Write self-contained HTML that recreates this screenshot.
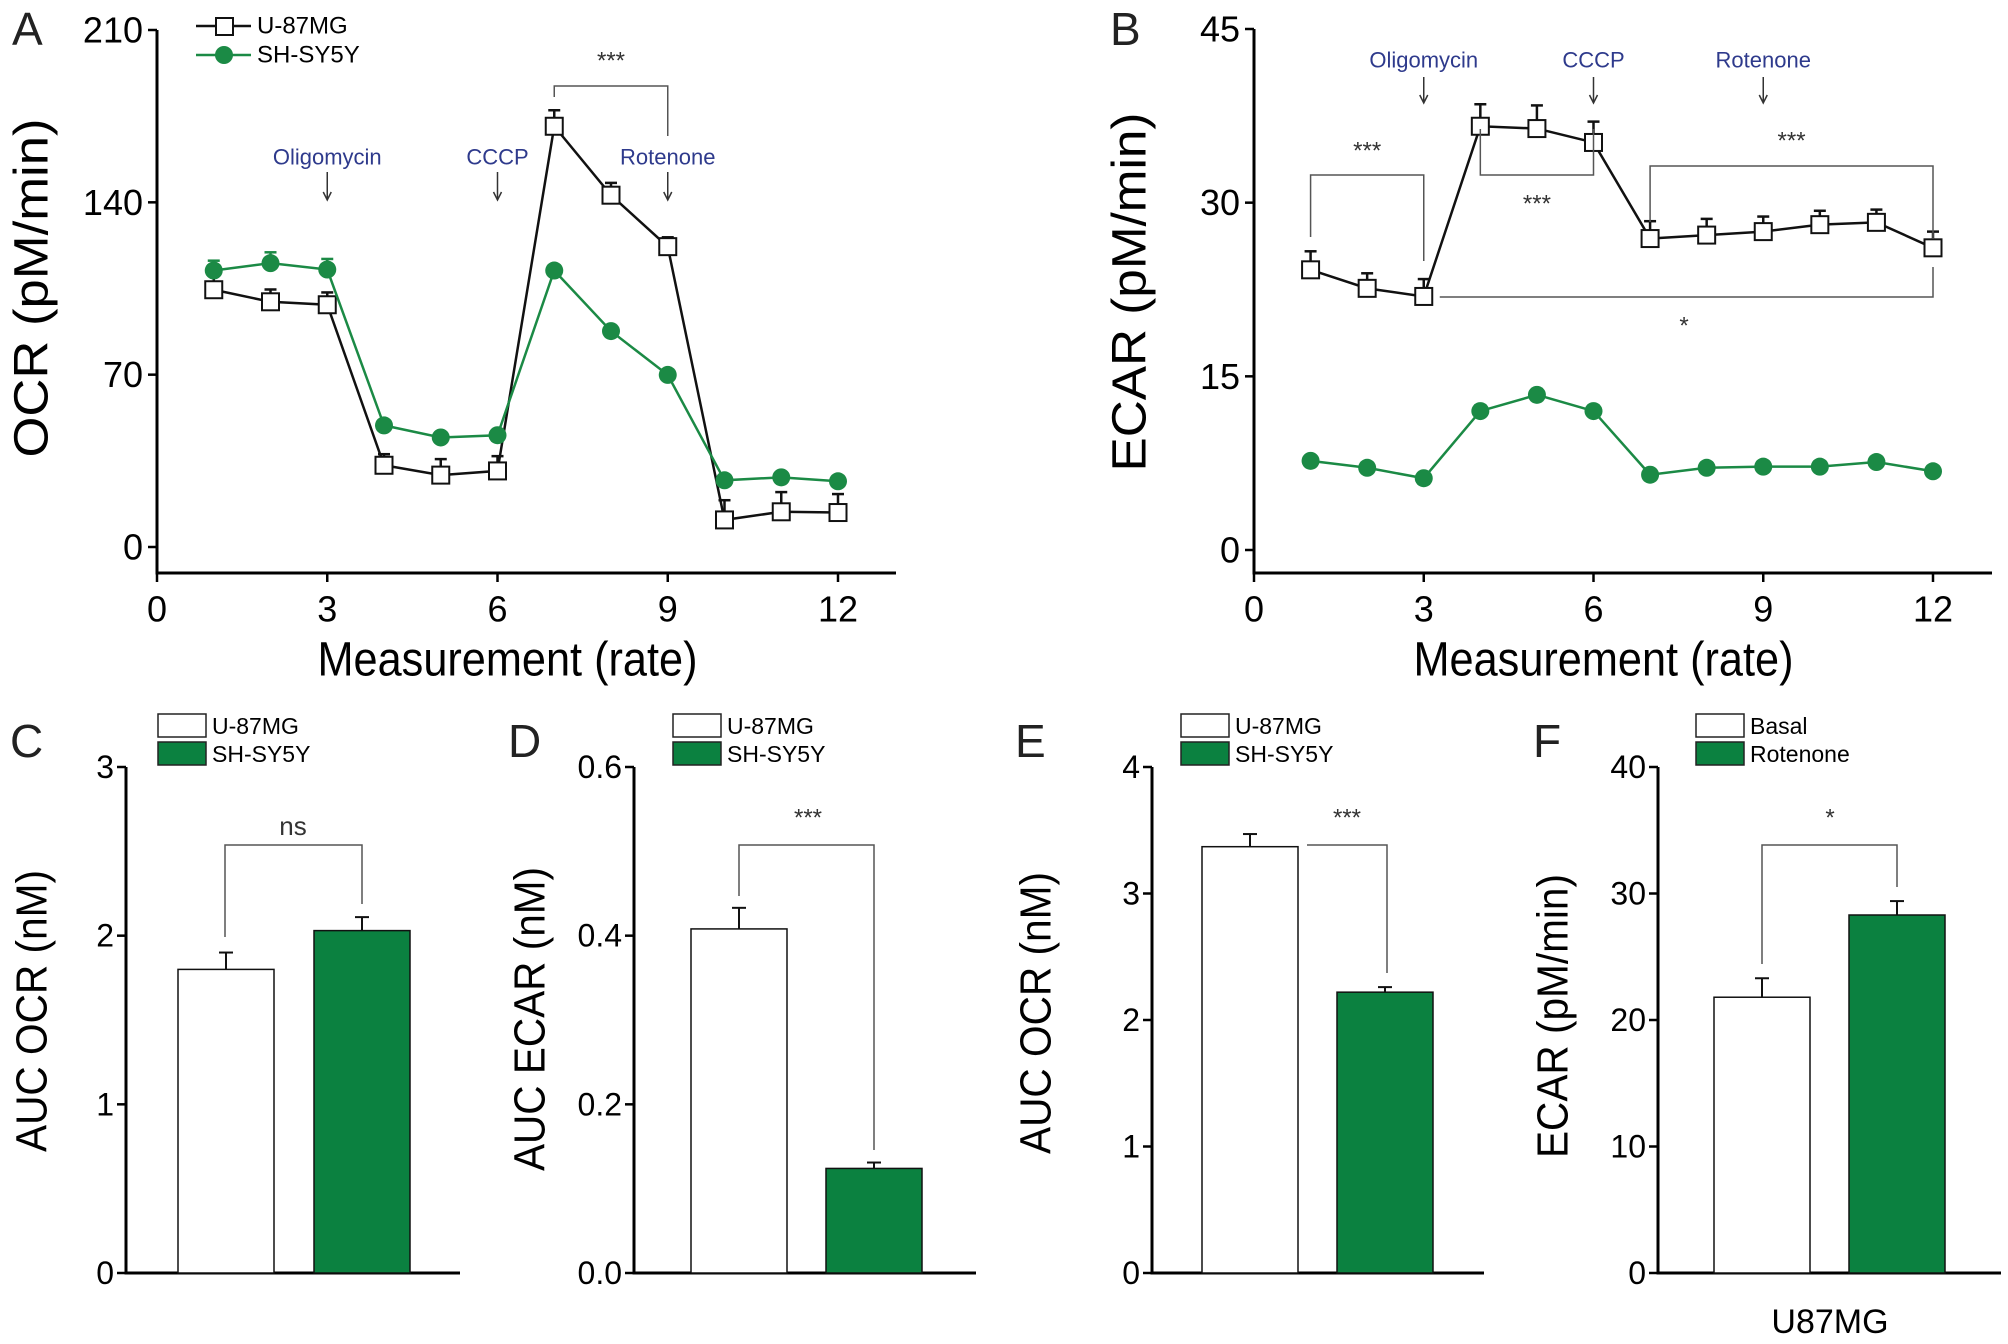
<!DOCTYPE html>
<html><head><meta charset="utf-8"><style>
html,body{margin:0;padding:0;background:#fff}
svg{display:block;font-family:"Liberation Sans",Arial,sans-serif}
</style></head><body>
<svg id="fig" width="2008" height="1344" viewBox="0 0 2008 1344"></svg>
<script>
// ---- Panel A data (OCR) ----
const measurements = [1,2,3,4,5,6,7,8,9,10,11,12];
const ocrU87 = [104.5,99.6,98.4,33.2,29.2,30.9,170.9,142.9,122,11,14.3,14];
const ocrU87Err = [7,5,5,4.5,6.5,6,6.5,5,3.8,8,8,7.5];
const ocrSH = [112.3,115.3,112.7,49.4,44.5,45.4,112.3,87.7,69.9,27.1,28.3,26.7];
const ocrSHErr = [4,4.4,4.3,1,1,1,1,1,1,1,1,1];
// ---- Panel B data (ECAR) ----
const ecarU87 = [24.2,22.6,21.9,36.6,36.4,35.2,26.9,27.2,27.5,28.1,28.3,26.1];
const ecarU87Err = [1.6,1.3,1.5,1.9,2,1.8,1.5,1.4,1.3,1.2,1.1,1.4];
const ecarSH = [7.7,7.1,6.2,12,13.4,12,6.5,7.1,7.2,7.2,7.6,6.8];
const ecarSHErr = [0.4,0.3,0.3,0.5,0.5,0.5,0.3,0.3,0.3,0.3,0.3,0.3];
const xTicks = [0,3,6,9,12];
const ocrTicks = [0,70,140,210];
const ecarTicks = [0,15,30,45];
// ---- Bar panels ----
const barC = [1.8,2.03]; const barCErr = [0.1,0.08];
const barD = [0.408,0.124]; const barDErr = [0.025,0.007];
const barE = [3.37,2.22]; const barEErr = [0.1,0.04];
const barF = [21.8,28.3]; const barFErr = [1.5,1.1];
const ticksC = ["0","1","2","3"];
const ticksD = ["0.0","0.2","0.4","0.6"];
const ticksE = ["0","1","2","3","4"];
const ticksF = ["0","10","20","30","40"];

const NS="http://www.w3.org/2000/svg";
const svg=document.getElementById('fig');
function el(tag,attrs,parent,txt){const e=document.createElementNS(NS,tag);for(const k in attrs)e.setAttribute(k,attrs[k]);if(txt!==undefined)e.textContent=txt;(parent||svg).appendChild(e);return e;}
const GREEN="#0b8140", LGREEN="#1b8a45", BLUE="#2e3a8c";

function letter(t,x,y){const e=el('text',{x:x,y:y,'font-size':46,fill:'#222'},svg,t);

}

function ytitle(t,cx,cy,len,fs,name){const e=el('text',{x:0,y:0,'font-size':fs,'text-anchor':'middle','dominant-baseline':'central',textLength:len,lengthAdjust:'spacingAndGlyphs',transform:`translate(${cx},${cy}) rotate(-90)`},svg,t);

}

function lineChart(o){
  const g=el('g',{});
  
  
  const X=v=>o.x0+(o.x12-o.x0)*v/12;
  const Y=v=>o.y0-(o.y0-o.yTop)*v/o.ymax;
  const ax=el('path',{d:`M${o.x0} ${o.yTop}V${o.axisY}H${o.xEnd}`,stroke:'#000','stroke-width':3,fill:'none'},g);
  
  
  o.yt.forEach(v=>{el('line',{x1:o.x0-9,x2:o.x0,y1:Y(v),y2:Y(v),stroke:'#000','stroke-width':2.5},g);
    const t=el('text',{x:o.x0-14,y:Y(v),'font-size':36,'text-anchor':'end','dominant-baseline':'central'},g,String(v));
    
    });
  xTicks.forEach(v=>{el('line',{x1:X(v),x2:X(v),y1:o.axisY,y2:o.axisY+9,stroke:'#000','stroke-width':2.5},g);
    const t=el('text',{x:X(v),y:o.axisY+36,'font-size':36,'text-anchor':'middle','dominant-baseline':'central'},g,String(v));
    
    });
  const xt=el('text',{x:(o.x0+o.x12)/2+10,y:o.axisY+87,'font-size':48,'text-anchor':'middle','dominant-baseline':'central',textLength:380,lengthAdjust:'spacingAndGlyphs'},g,'Measurement (rate)');
  
  
  const series=[{v:o.u,e:o.ue,c:'#111',sq:true,n:'u87mg'},{v:o.s,e:o.se,c:LGREEN,sq:false,n:'shsy5y'}];
  series.forEach(s=>{
    const sg=el('g',{},g);
    
    
    el('polyline',{points:measurements.map((m,i)=>X(m)+','+Y(s.v[i])).join(' '),fill:'none',stroke:s.c,'stroke-width':2.5},sg);
    measurements.forEach((m,i)=>{
      const cx=X(m),cy=Y(s.v[i]),ce=Y(s.v[i]+s.e[i]);
      el('line',{x1:cx,x2:cx,y1:cy,y2:ce,stroke:s.c,'stroke-width':2.5},sg);
      el('line',{x1:cx-6,x2:cx+6,y1:ce,y2:ce,stroke:s.c,'stroke-width':2.5},sg);
      let mk;
      if(s.sq) mk=el('rect',{x:cx-8.5,y:cy-8.5,width:17,height:17,fill:'#fff',stroke:'#111','stroke-width':2},sg);
      else mk=el('circle',{cx:cx,cy:cy,r:9,fill:LGREEN},sg);
      
      
    });
  });
  o.drugs.forEach(d=>{
    const t=el('text',{x:X(d[1]),y:d[2],'font-size':22,fill:BLUE,'text-anchor':'middle','dominant-baseline':'central'},g,d[0]);
    
    
    el('line',{x1:X(d[1]),x2:X(d[1]),y1:d[3],y2:d[4],stroke:'#333','stroke-width':1.5},g);
    el('path',{d:`M${X(d[1])-4} ${d[4]-8}L${X(d[1])} ${d[4]}L${X(d[1])+4} ${d[4]-8}`,stroke:'#333','stroke-width':1.5,fill:'none'},g);
  });
  return {g,X,Y};
}

function star(t,x,y,fs){const e=el('text',{x:x,y:y,'font-size':fs||24,'text-anchor':'middle','dominant-baseline':'central',fill:'#333'},svg,t);

}
function bracket(d){const e=el('path',{d:d,stroke:'#555','stroke-width':1.5,fill:'none'});

}

letter('A',12,45);
ytitle('OCR (pM/min)',32,288,339,48,'y-axis-title-ocr');
const A=lineChart({name:'panel-a-ocr',x0:157,x12:838,xEnd:896,yTop:30,y0:547,axisY:573,ymax:210,yt:ocrTicks,
 u:ocrU87,ue:ocrU87Err,s:ocrSH,se:ocrSHErr,drugs:[['Oligomycin',3,157,172,200],['CCCP',6,157,172,200],['Rotenone',9,157,172,200]]});
{const lg=el('g',{});
el('line',{x1:196,x2:251,y1:26,y2:26,stroke:'#111','stroke-width':2.5},lg);
el('rect',{x:216,y:18,width:17,height:17,fill:'#fff',stroke:'#111','stroke-width':2},lg);
el('text',{x:257,y:26,'font-size':24,'dominant-baseline':'central'},lg,'U-87MG');
el('line',{x1:196,x2:251,y1:55,y2:55,stroke:LGREEN,'stroke-width':2.5},lg);
el('circle',{cx:224,cy:55,r:9,fill:LGREEN},lg);
el('text',{x:257,y:55,'font-size':24,'dominant-baseline':'central'},lg,'SH-SY5Y');}
star('***',A.X(8),61);
bracket(`M${A.X(7)} 97V86H${A.X(9)}V136`);

letter('B',1110,45);
ytitle('ECAR (pM/min)',1130,292,359,48,'y-axis-title-ecar');
const B=lineChart({name:'panel-b-ecar',x0:1254,x12:1933,xEnd:1992,yTop:29,y0:550,axisY:573,ymax:45,yt:ecarTicks,
 u:ecarU87,ue:ecarU87Err,s:ecarSH,se:ecarSHErr,drugs:[['Oligomycin',3,60,77,103],['CCCP',6,60,77,103],['Rotenone',9,60,77,103]]});
star('***',B.X(2),151);
bracket(`M${B.X(1)} 237V175H${B.X(3)}V261`);
bracket(`M${B.X(4)} 129V175H${B.X(6)}V129`);
star('***',B.X(5),204);
bracket(`M${B.X(7)} 222V166H${B.X(12)}V239`);
star('***',B.X(9.5),141);
bracket(`M${B.X(3)+16} 297H${B.X(12)}V267`);
star('*',B.X(7.6),326);

function barPanel(o){
  const g=el('g',{});
  
  
  const n=o.ticks.length-1, ymax=parseFloat(o.ticks[n]);
  const Y=v=>o.y0-(o.y0-o.yTop)*v/ymax;
  const ax=el('path',{d:`M${o.ax} ${o.yTop}V${o.y0}H${o.xEnd}`,stroke:'#000','stroke-width':3,fill:'none'},g);
  
  
  o.ticks.forEach(t=>{const v=parseFloat(t);
    el('line',{x1:o.ax-9,x2:o.ax,y1:Y(v),y2:Y(v),stroke:'#000','stroke-width':2.5},g);
    const e=el('text',{x:o.ax-12,y:Y(v),'font-size':32,'text-anchor':'end','dominant-baseline':'central'},g,t);
    
    });
  o.vals.forEach((v,i)=>{
    const x=o.bx[i], w=96, top=Y(v), et=Y(v+o.errs[i]);
    el('line',{x1:x+w/2,x2:x+w/2,y1:top,y2:et,stroke:'#111','stroke-width':2},g);
    el('line',{x1:x+w/2-7,x2:x+w/2+7,y1:et,y2:et,stroke:'#111','stroke-width':2},g);
    const r=el('rect',{x:x,y:top,width:w,height:o.y0-top,fill:i?GREEN:'#fff',stroke:'#111','stroke-width':1.5},g);
    
    
  });
  const lg=el('g',{},g);
  
  
  el('rect',{x:o.lx,y:714,width:48,height:23,fill:'#fff',stroke:'#222','stroke-width':1.5},lg);
  el('rect',{x:o.lx,y:742,width:48,height:23,fill:GREEN,stroke:'#222','stroke-width':1.5},lg);
  el('text',{x:o.lx+54,y:726,'font-size':23,'dominant-baseline':'central'},lg,o.leg[0]);
  el('text',{x:o.lx+54,y:754,'font-size':23,'dominant-baseline':'central'},lg,o.leg[1]);
}
const legCells=['U-87MG','SH-SY5Y'];
letter('C',10,757); ytitle('AUC OCR (nM)',32,1011,282,44,'y-axis-title-auc-ocr');
barPanel({name:'panel-c-auc-ocr',ax:126,yTop:767,y0:1273,xEnd:460,ticks:ticksC,vals:barC,errs:barCErr,bx:[178,314],lx:158,leg:legCells});
bracket('M225 937V845H362V904'); star('ns',293,826,26);
letter('D',508,757); ytitle('AUC ECAR (nM)',530,1019,304,44,'y-axis-title-auc-ecar');
barPanel({name:'panel-d-auc-ecar',ax:634,yTop:767,y0:1273,xEnd:976,ticks:ticksD,vals:barD,errs:barDErr,bx:[691,826],lx:673,leg:legCells});
bracket('M739 896V845H874V1150'); star('***',808,818);
letter('E',1015,757); ytitle('AUC OCR (nM)',1036,1013,282,44,'y-axis-title-auc-ocr-e');
barPanel({name:'panel-e-auc-ocr',ax:1152,yTop:767,y0:1273,xEnd:1484,ticks:ticksE,vals:barE,errs:barEErr,bx:[1202,1337],lx:1181,leg:legCells});
bracket('M1307 845H1387V973'); star('***',1347,818);
letter('F',1533,757); ytitle('ECAR (pM/min)',1553,1016,284,44,'y-axis-title-ecar-f');
barPanel({name:'panel-f-ecar',ax:1658,yTop:767,y0:1273,xEnd:2001,ticks:ticksF,vals:barF,errs:barFErr,bx:[1714,1849],lx:1696,leg:['Basal','Rotenone']});
bracket('M1762 964V845H1897V887'); star('*',1830,818);
{const t=el('text',{x:1830,y:1322,'font-size':34,'text-anchor':'middle','dominant-baseline':'central'},svg,'U87MG');

}
</script>
</body></html>
